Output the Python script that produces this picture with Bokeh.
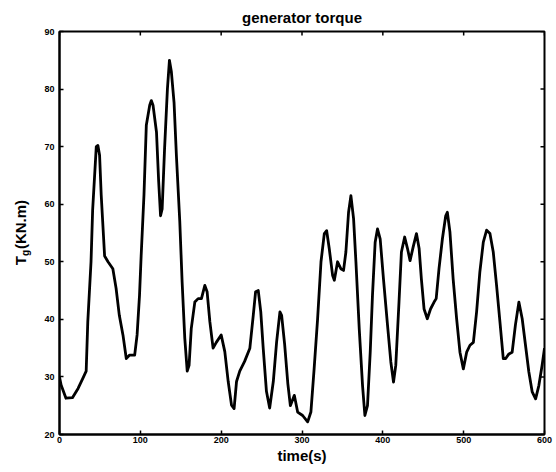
import math
from bokeh.plotting import figure
from bokeh.models import Range1d, FixedTicker, Label, ColumnDataSource
from bokeh.layouts import row
from bokeh.embed import file_html
from bokeh.resources import INLINE

# time (s) and generator torque (kN.m)
time_s = [0, 2, 8, 16, 23, 29, 33, 35, 39, 41, 45.5, 47.5, 49.6, 51.6, 55.8, 60, 66, 70, 74,
          78.5, 82.6, 86.8, 91, 93, 96, 99, 101, 104.5, 107.4, 111.6, 113.6, 115.7, 120,
          122.7, 125, 127, 130, 133.5, 136, 138.4, 141.7, 144.6, 148.8, 151.7, 155, 158,
          160.3, 163, 167.4, 171.5, 175.6, 179.8, 182.6, 186, 190, 194, 200, 204.5, 208.7,
          212.8, 216, 219, 223, 229, 235.5, 239.7, 242.6, 245.9, 249, 252, 256, 260, 264.5,
          268.6, 272.7, 274.8, 278.5, 282.5, 285.6, 290.5, 294.6, 300.8, 307, 311, 315,
          319.3, 323.5, 327.6, 330.5, 333.7, 337.9, 340, 344, 348, 351.4, 354.3, 357.6,
          360.5, 363.8, 366.7, 370.8, 374.9, 377.8, 381, 384.4, 387.2, 390.5, 393.4, 396.7,
          400.8, 405.8, 409.9, 413.2, 416, 420, 423, 427, 430.5, 433.7, 437.4, 441.6, 444.9,
          447.7, 451, 455, 459, 463.4, 466, 469.5, 473.7, 477.8, 479.8, 483, 487, 491.3,
          495.4, 499.6, 503.7, 507.8, 512, 516, 520, 524.3, 528.4, 532.5, 536.6, 540.7,
          544.9, 549, 552, 556, 560, 564, 568.3, 572.4, 576.5, 580.6, 584.8, 589, 593, 597,
          600]
torque = [30, 28.6, 26.3, 26.4, 28, 29.8, 31, 39.6, 50, 59, 70, 70.2, 68.5, 61.6, 51, 50,
          48.8, 45.4, 40.7, 37.3, 33.2, 33.8, 33.8, 33.8, 37.3, 44.2, 51, 61.6, 73.7, 77.2,
          78, 77.2, 72.5, 63.9, 58, 59.2, 69.7, 80, 85, 83, 77.7, 68.5, 57, 46.5, 36.7, 31,
          32, 38.4, 43, 43.6, 43.6, 45.9, 44.8, 39.6, 35, 36, 37.3, 34.4, 29.2, 25.1, 24.5,
          29.2, 31, 32.7, 35, 40.7, 44.8, 45, 41.3, 35, 27.5, 24.6, 29.2, 36.1, 41.3, 40.7,
          35.7, 28.8, 25, 26.8, 23.9, 23.3, 22.2, 23.9, 31.4, 40.1, 50, 54.9, 55.4, 52.3,
          47.6, 46.8, 50, 48.8, 48.5, 51.7, 58.6, 61.5, 57.5, 50, 38.4, 28.5, 23.3, 25,
          34.3, 44.2, 53.4, 55.7, 54, 47, 39, 32.6, 29.1, 32, 43, 51.7, 54.3, 52.3, 50.2,
          52.5, 54.9, 52.3, 47, 41.8, 40.1, 41.8, 43, 43.6, 48.8, 54, 58, 58.6, 55.2, 47,
          40.1, 34.3, 31.4, 34.3, 35.5, 36, 41.3, 48.2, 53.4, 55.5, 54.9, 51.7, 45.9, 39.5,
          33.2, 33.2, 34, 34.3, 39, 43, 40.1, 35.5, 30.9, 27.4, 26.2, 28.5, 32, 35]

x_ticks = [0, 100, 200, 300, 400, 500, 600]
y_ticks = [20, 30, 40, 50, 60, 70, 80, 90]
X_MIN, X_MAX = 0, 600
Y_MIN, Y_MAX = 20, 90

FONT = "Liberation Sans"
LABEL_W = 36

# ---- main plot ----
p = figure(width=556 - LABEL_W, height=472, output_backend="svg", toolbar_location=None,
           x_range=Range1d(X_MIN, X_MAX), y_range=Range1d(Y_MIN, Y_MAX),
           min_border_left=23, min_border_right=12, min_border_top=30, min_border_bottom=38,
           x_axis_label="time(s)")
p.background_fill_color = "white"
p.border_fill_color = "white"
p.grid.visible = False
p.outline_line_color = "black"
p.outline_line_width = 2

p.title.text = "generator torque"
p.title.align = "center"
p.title.text_font = FONT
p.title.text_font_size = "15px"
p.title.text_font_style = "bold"
p.title.text_color = "black"
p.title.standoff = 12

src = ColumnDataSource(dict(t=time_s, tq=torque))
p.line("t", "tq", source=src, line_color="black", line_width=2.8, line_join="round")

for ax in [p.xaxis[0], p.yaxis[0]]:
    ax.major_tick_in = 4
    ax.major_tick_out = 0
    ax.minor_tick_line_color = None
    ax.axis_line_width = 2
    ax.axis_line_color = "black"
    ax.major_tick_line_width = 1.5
    ax.major_tick_line_color = "black"
    ax.major_label_text_font = FONT
    ax.major_label_text_font_size = "9px"
    ax.major_label_text_font_style = "bold"
    ax.major_label_text_color = "black"
    ax.major_label_standoff = 5
p.xaxis[0].major_label_standoff = 2

p.xaxis[0].ticker = FixedTicker(ticks=x_ticks)
p.yaxis[0].ticker = FixedTicker(ticks=y_ticks)
p.xaxis[0].axis_label_text_font = FONT
p.xaxis[0].axis_label_text_font_size = "15px"
p.xaxis[0].axis_label_text_font_style = "bold"
p.xaxis[0].axis_label_text_color = "black"
p.xaxis[0].axis_label_standoff = 1

# mirrored ticks on the top and right edges (MATLAB box style); half of each dash is clipped
p.scatter(x_ticks, [Y_MAX] * len(x_ticks), marker="dash", size=8, angle=math.pi / 2,
          line_color="black", line_width=1.5)
p.scatter([X_MAX] * len(y_ticks), y_ticks, marker="dash", size=8,
          line_color="black", line_width=1.5)

# ---- y-axis label panel: T_g(KN.m) ----
lab = figure(width=LABEL_W, height=472, output_backend="svg", toolbar_location=None,
             x_range=Range1d(0, LABEL_W), y_range=Range1d(Y_MIN, Y_MAX),
             min_border_left=0, min_border_right=0, min_border_top=30, min_border_bottom=38)
lab.axis.visible = False
lab.grid.visible = False
lab.outline_line_color = None
lab.background_fill_color = "white"
lab.border_fill_color = "white"
common = dict(angle=90, angle_units="deg", text_align="left", text_baseline="middle",
              text_font=FONT, text_font_style="bold", text_color="black")
lab.add_layout(Label(x=20, y=49.4, text="T", text_font_size="15px", **common))
lab.add_layout(Label(x=25, y=51.0, text="g", text_font_size="10px", **common))
lab.add_layout(Label(x=20, y=52.2, text="(KN.m)", text_font_size="15px", **common))

layout = row(lab, p)
open("out.html", "w").write(file_html(layout, INLINE))
